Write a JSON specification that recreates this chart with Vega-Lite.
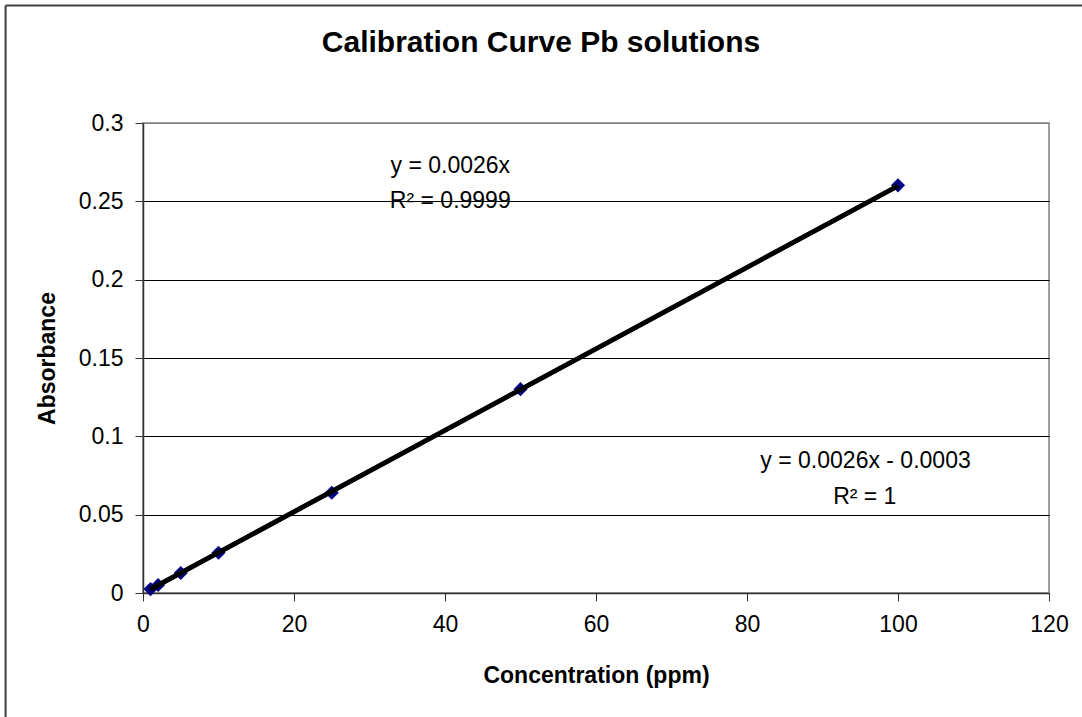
{
  "$schema": "https://vega.github.io/schema/vega-lite/v6.json",
  "width": 906,
  "height": 470,
  "autosize": {"type": "none"},
  "padding": {"left": 143, "top": 123, "right": 33, "bottom": 124},
  "background": "white",
  "config": {
    "font": "Liberation Sans",
    "view": {"stroke": "#808080", "strokeWidth": 1.5}
  },
  "title": {
    "text": "Calibration Curve Pb solutions",
    "font": "Liberation Sans",
    "fontSize": 30,
    "fontWeight": "bold",
    "color": "black",
    "anchor": "middle",
    "baseline": "alphabetic",
    "dx": -55,
    "offset": -77
  },
  "datasets": {
    "points": [
      {"x": 1, "y": 0.0025},
      {"x": 2, "y": 0.0051},
      {"x": 5, "y": 0.0128},
      {"x": 10, "y": 0.0257},
      {"x": 25, "y": 0.064},
      {"x": 50, "y": 0.1301},
      {"x": 100, "y": 0.2602}
    ],
    "trend": [
      {"x": 1, "y": 0.0026, "s": "through origin"},
      {"x": 100, "y": 0.26, "s": "through origin"},
      {"x": 1, "y": 0.0023, "s": "with intercept"},
      {"x": 100, "y": 0.2597, "s": "with intercept"}
    ],
    "labels": [
      {"x": 40.7, "y": 0.2679, "label": "y = 0.0026x"},
      {"x": 40.7, "y": 0.2456, "label": "R² = 0.9999"},
      {"x": 95.7, "y": 0.08, "label": "y = 0.0026x - 0.0003"},
      {"x": 95.6, "y": 0.0566, "label": "R² = 1"}
    ],
    "frame": [
      {"x": -18.2, "x2": -18.2, "y": -0.1, "y2": 0.375},
      {"x": -18.2, "x2": 130, "y": 0.375, "y2": 0.375}
    ]
  },
  "encoding": {
    "x": {
      "field": "x",
      "type": "quantitative",
      "scale": {"domain": [0, 120], "nice": false, "zero": false},
      "axis": {
        "title": "Concentration (ppm)",
        "values": [0, 20, 40, 60, 80, 100, 120],
        "grid": false,
        "domainColor": "#333333",
        "domainWidth": 1.5,
        "tickColor": "#333333",
        "tickSize": 8,
        "labelFontSize": 23,
        "labelColor": "black",
        "labelPadding": 12,
        "labelFlush": false,
        "labelOverlap": false,
        "titleFontSize": 23,
        "titleFontWeight": "bold",
        "titleColor": "black",
        "titleBaseline": "alphabetic",
        "titleY": 89
      }
    },
    "y": {
      "field": "y",
      "type": "quantitative",
      "scale": {"domain": [0, 0.3], "nice": false, "zero": false},
      "axis": {
        "title": "Absorbance",
        "values": [0, 0.05, 0.1, 0.15, 0.2, 0.25, 0.3],
        "format": "~g",
        "grid": true,
        "gridColor": {"condition": {"test": "datum.value >= 0.3", "value": "#808080"}, "value": "black"},
        "gridWidth": 1,
        "domainColor": "#333333",
        "domainWidth": 1.5,
        "tickColor": "#333333",
        "tickSize": 8,
        "labelFontSize": 23,
        "labelColor": "black",
        "labelPadding": 12,
        "labelFlush": false,
        "labelOverlap": false,
        "titleFontSize": 23,
        "titleFontWeight": "bold",
        "titleColor": "black",
        "titleAngle": 270,
        "titleBaseline": "middle",
        "titleAlign": "center",
        "titleX": -96,
        "titleY": 235
      }
    }
  },
  "layer": [
    {
      "data": {"name": "frame"},
      "mark": {"type": "rule", "color": "#404040", "strokeWidth": 2, "clip": false},
      "encoding": {
        "x2": {"field": "x2"},
        "y2": {"field": "y2"}
      }
    },
    {
      "data": {"name": "points"},
      "mark": {"type": "point", "shape": "diamond", "filled": true, "color": "#000080", "size": 200, "opacity": 1}
    },
    {
      "data": {"name": "trend"},
      "mark": {"type": "line", "color": "black", "strokeWidth": 4.5},
      "encoding": {
        "detail": {"field": "s", "type": "nominal"}
      }
    },
    {
      "data": {"name": "labels"},
      "mark": {"type": "text", "fontSize": 23, "color": "black", "align": "center", "baseline": "alphabetic", "font": "Liberation Sans"},
      "encoding": {
        "text": {"field": "label", "type": "nominal"}
      }
    }
  ]
}
